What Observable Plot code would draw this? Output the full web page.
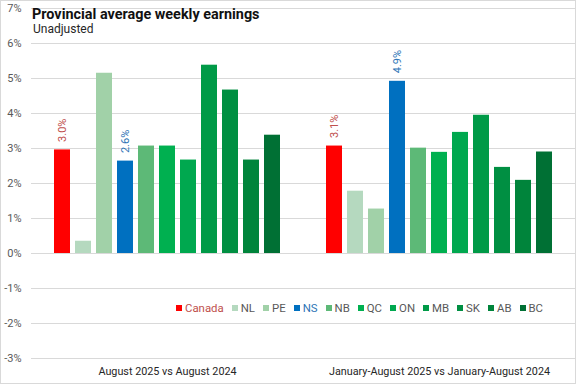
<!DOCTYPE html>
<html>
<head>
<meta charset="utf-8">
<script src="https://cdn.jsdelivr.net/npm/d3@7"></script>
<script src="https://cdn.jsdelivr.net/npm/@observablehq/plot@0.6"></script>
<style>
  html, body { margin: 0; padding: 0; background: #fff; }
  #wrap { position: relative; width: 576px; height: 384px; font-family: Roboto, "Liberation Sans", sans-serif; }
  #frame { position: absolute; left: 0; top: 0; width: 576px; height: 384px; box-sizing: border-box; border: 1px solid #d9d9d9; pointer-events: none; }
  #title { position: absolute; left: 32px; top: 7px; font-size: 14.4px; font-weight: bold; color: #111; line-height: 16px; white-space: nowrap; }
  #subtitle { position: absolute; left: 33px; top: 23px; font-size: 12px; color: #262626; line-height: 13px; white-space: nowrap; }
  #legend { position: absolute; left: 176px; top: 301px; display: flex; gap: 8px; font-size: 11.4px; color: #595959; line-height: 14px; white-space: nowrap; }
  #legend .item { display: flex; align-items: center; }
  #legend .sw { width: 6px; height: 6px; margin-right: 3px; }
</style>
</head>
<body>
<div id="wrap">
  <div id="chart"></div>
  <div id="title">Provincial average weekly earnings</div>
  <div id="subtitle">Unadjusted</div>
  <div id="legend"></div>
  <div id="frame"></div>
</div>
<script>
// Data
const provinces = ["Canada", "NL", "PE", "NS", "NB", "QC", "ON", "MB", "SK", "AB", "BC"];
const provinceColors = ["#FF0000", "#B5D9BF", "#A1D1A8", "#0070C0", "#5DB977", "#00B050", "#00A84F", "#009A47", "#008F42", "#00843B", "#007034"];
const periods = ["August 2025 vs August 2024", "January-August 2025 vs January-August 2024"];
const augustChange = [2.96, 0.35, 5.15, 2.64, 3.07, 3.07, 2.67, 5.38, 4.67, 2.67, 3.38];
const yearToDateChange = [3.07, 1.78, 1.27, 4.92, 3.01, 2.89, 3.46, 3.95, 2.46, 2.09, 2.90];
const labelledProvinces = ["Canada", "NS"];
const labelColors = ["#C0504D", "#2E75B6"];
const legendTextColors = {Canada: "#C0504D", NS: "#2E75B6"};
const yTicks = [-3, -2, -1, 0, 1, 2, 3, 4, 5, 6, 7];

const series = [augustChange, yearToDateChange];
const rows = periods.flatMap((period, p) =>
  provinces.map((province, i) => ({period, province, value: series[p][i]}))
);
const labelRows = rows.filter(d => labelledProvinces.includes(d.province));
const labelColorOf = d => labelColors[labelledProvinces.indexOf(d.province)];

const chart = Plot.plot({
  width: 576,
  height: 384,
  marginTop: 8,
  marginBottom: 26,
  marginLeft: 31,
  marginRight: 1,
  style: {fontFamily: "Roboto, 'Liberation Sans', sans-serif", fontSize: "11px", color: "#595959", background: "transparent"},
  fx: {domain: periods, padding: 0, label: null, axis: null},
  x: {domain: provinces, paddingInner: 0.23, paddingOuter: 0.875, axis: null},
  y: {domain: [-3, 7], axis: null},
  color: {domain: provinces, range: provinceColors},
  marks: [
    Plot.gridY(yTicks, {stroke: "#d9d9d9", strokeOpacity: 1}),
    Plot.axisY(yTicks, {tickSize: 0, tickPadding: 10, tickFormat: d => d + "%", label: null, fill: "#595959"}),
    Plot.barY(rows, {fx: "period", x: "province", y: "value", fill: "province"}),
    Plot.text(labelRows, {
      fx: "period", x: "province", y: "value",
      text: d => d.value.toFixed(1) + "%",
      rotate: -90, textAnchor: "start", dy: -8,
      fill: labelColorOf, fontSize: 11
    }),
    Plot.axisFx({anchor: "bottom", tickSize: 0, tickPadding: 9, label: null, fill: "#262626", fontSize: 10.8})
  ]
});
document.getElementById("chart").appendChild(chart);

// Legend
const legend = document.getElementById("legend");
provinces.forEach((p, i) => {
  const item = document.createElement("div");
  item.className = "item";
  const sw = document.createElement("span");
  sw.className = "sw";
  sw.style.background = provinceColors[i];
  const tx = document.createElement("span");
  tx.textContent = p;
  if (legendTextColors[p]) tx.style.color = legendTextColors[p];
  item.appendChild(sw);
  item.appendChild(tx);
  legend.appendChild(item);
});
</script>
</body>
</html>
